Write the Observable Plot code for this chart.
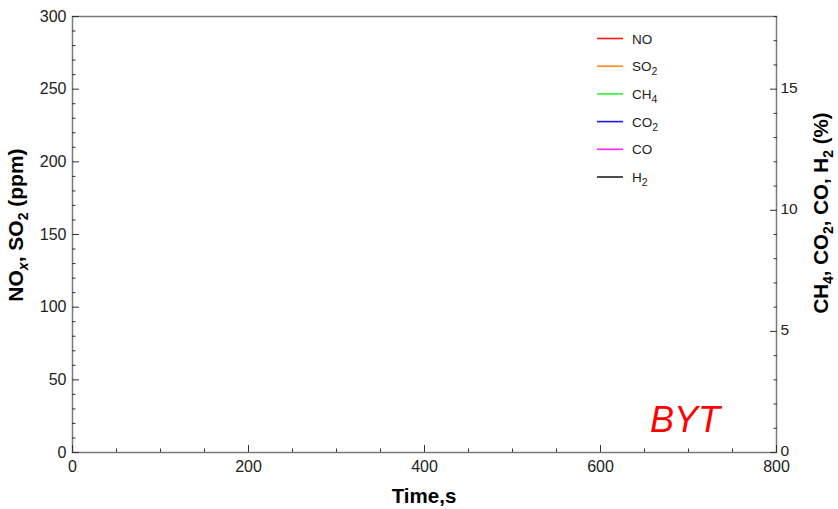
<!DOCTYPE html>
<html>
<head>
<meta charset="utf-8">
<script src="https://cdn.jsdelivr.net/npm/d3@7"></script>
<script src="https://cdn.jsdelivr.net/npm/@observablehq/plot@0.6"></script>
<style>
  html, body { margin: 0; padding: 0; background: #fff; }
  #chart { position: relative; width: 838px; height: 509px; }
  svg { font-family: Arial, "Liberation Sans", sans-serif; }
</style>
</head>
<body>
<div id="chart"></div>
<script>
// Gas species in the legend (base text + subscript) and their line colours
const speciesBase = ["NO", "SO", "CH", "CO", "CO", "H"];
const speciesSub = ["", "2", "4", "2", "", "2"];
const speciesColors = ["#ff1a1a", "#ff8c1a", "#33f033", "#1a1aff", "#ff22ff", "#222222"];

// Time axis (s)
const timeMax = 800;
const timeTicks = [0, 200, 400, 600, 800];
const timeMinor = [50, 100, 150, 250, 300, 350, 450, 500, 550, 650, 700, 750];

// Left axis: NOx, SO2 (ppm)
const ppmMax = 300;
const ppmTicks = [0, 50, 100, 150, 200, 250, 300];
const ppmMinor = [10, 20, 30, 40, 60, 70, 80, 90, 110, 120, 130, 140, 160, 170, 180, 190,
                  210, 220, 230, 240, 260, 270, 280, 290];

// Right axis: CH4, CO2, CO, H2 (%)
const pctMax = 18;
const pctTicks = [0, 5, 10, 15];
const pctMinor = [1, 2, 3, 4, 6, 7, 8, 9, 11, 12, 13, 14, 16, 17, 18];

// Sample label
const sampleLabel = "BYT";

// the right axis shares the y scale: convert % into ppm positions
const toPpm = (p) => p * ppmMax / pctMax;

const tickColor = "#333";
const labelColor = "#222";

const plot = Plot.plot({
  width: 838,
  height: 509,
  marginLeft: 72,
  marginRight: 62,
  marginTop: 16,
  marginBottom: 57,
  x: { domain: [0, timeMax], axis: null },
  y: { domain: [0, ppmMax], axis: null },
  style: { fontFamily: "Arial, 'Liberation Sans', sans-serif", fontSize: "16px", color: labelColor, background: "#fff" },
  marks: [
    Plot.frame({ stroke: "#7a7a7a", strokeWidth: 1.5 }),
    // bottom axis
    Plot.axisX(timeTicks, { tickSize: -7, text: null, label: null, stroke: tickColor }),
    Plot.axisX(timeMinor, { tickSize: -3.5, text: null, label: null, stroke: tickColor }),
    Plot.axisX(timeTicks, { tickSize: 0, tickPadding: 8, label: null, fontSize: 16, fill: labelColor }),
    // left axis
    Plot.axisY(ppmTicks, { tickSize: -7, text: null, label: null, stroke: tickColor }),
    Plot.axisY(ppmMinor, { tickSize: -3.5, text: null, label: null, stroke: tickColor }),
    Plot.axisY(ppmTicks, { tickSize: 0, tickPadding: 6, label: null, fontSize: 16, fill: labelColor }),
    // right axis
    Plot.axisY(pctTicks.map(toPpm), { anchor: "right", tickSize: -7, text: null, label: null, stroke: tickColor }),
    Plot.axisY(pctMinor.map(toPpm), { anchor: "right", tickSize: -3.5, text: null, label: null, stroke: tickColor }),
    Plot.axisY(pctTicks.map(toPpm), {
      anchor: "right", tickSize: 0, tickPadding: 4, label: null, fontSize: 15.5, fill: labelColor,
      dy: -1.5,
      tickFormat: (d) => String(Math.round(d * pctMax / ppmMax))
    })
  ]
});

document.getElementById("chart").appendChild(plot);

const svg = d3.select(plot);

// writes a text made of plain and subscript parts
function richText(g, parts, subSize, subShift) {
  let shifted = false;
  parts.forEach((p) => {
    const t = g.append("tspan").text(p.t);
    if (p.sub) {
      t.attr("font-size", subSize).attr("dy", subShift);
      if (p.italic) t.attr("font-style", "italic");
      shifted = true;
    } else if (shifted) {
      t.attr("dy", -subShift);
      shifted = false;
    }
  });
}

// axis titles
const titleFont = { size: 21, weight: "bold" };

const leftTitle = svg.append("text")
  .attr("transform", "translate(23,225) rotate(-90)")
  .attr("text-anchor", "middle")
  .attr("font-size", titleFont.size)
  .attr("font-weight", titleFont.weight)
  .attr("fill", "#000");
richText(leftTitle, [
  { t: "NO" }, { t: "x", sub: true, italic: true }, { t: ", SO" }, { t: "2", sub: true }, { t: " (ppm)" }
], 14, 5);

const rightTitle = svg.append("text")
  .attr("transform", "translate(828,213) rotate(-90)")
  .attr("text-anchor", "middle")
  .attr("font-size", titleFont.size - 0.5)
  .attr("font-weight", titleFont.weight)
  .attr("fill", "#000");
richText(rightTitle, [
  { t: "CH" }, { t: "4", sub: true }, { t: ", CO" }, { t: "2", sub: true }, { t: ", CO, H" }, { t: "2", sub: true }, { t: " (%)" }
], 14, 5);

svg.append("text")
  .attr("x", 424)
  .attr("y", 503)
  .attr("text-anchor", "middle")
  .attr("font-size", 20.5)
  .attr("font-weight", "bold")
  .attr("fill", "#000")
  .text("Time,s");

// sample annotation
svg.append("text")
  .attr("x", 650)
  .attr("y", 432)
  .attr("text-anchor", "start")
  .attr("font-size", 36)
  .attr("font-style", "italic")
  .attr("fill", "#ff0000")
  .text(sampleLabel);

// legend
const legend = svg.append("g").attr("transform", "translate(597,38.5)");
speciesBase.forEach((base, i) => {
  const row = legend.append("g").attr("transform", `translate(0,${i * 27.7})`);
  row.append("line")
    .attr("x1", 0).attr("x2", 26)
    .attr("y1", 0).attr("y2", 0)
    .attr("stroke", speciesColors[i])
    .attr("stroke-width", 1.6);
  const t = row.append("text")
    .attr("x", 35)
    .attr("y", 5)
    .attr("text-anchor", "start")
    .attr("font-size", 13.5)
    .attr("fill", labelColor);
  const parts = [{ t: base }];
  if (speciesSub[i]) parts.push({ t: speciesSub[i], sub: true });
  richText(t, parts, 10.5, 4);
});
</script>
</body>
</html>
